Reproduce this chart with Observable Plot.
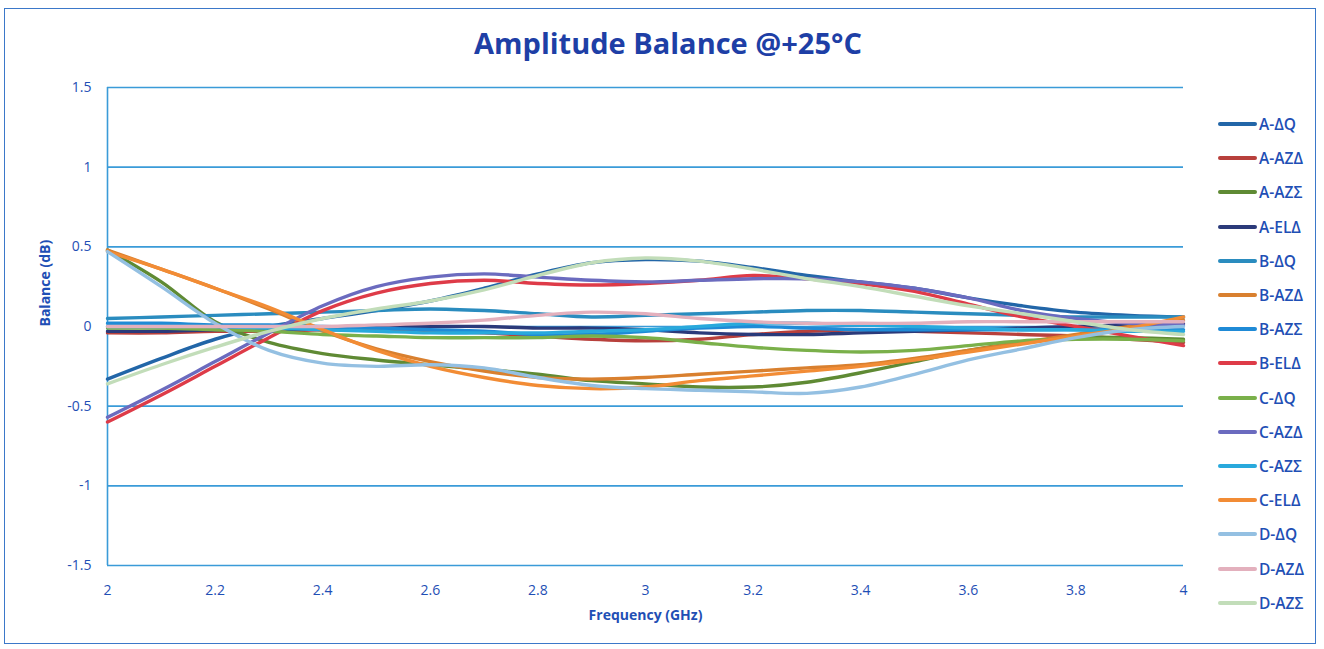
<!DOCTYPE html>
<html>
<head>
<meta charset="utf-8">
<script src="https://cdn.jsdelivr.net/npm/d3@7"></script>
<script src="https://cdn.jsdelivr.net/npm/@observablehq/plot@0.6"></script>
<style>
  html, body { margin: 0; padding: 0; background: #fff; }
  #wrap { position: relative; width: 1324px; height: 649px; overflow: hidden; background: #fff; font-family: "Open Sans", "Liberation Sans", sans-serif; }
  #frame { position: absolute; left: 4px; top: 8px; width: 1312px; height: 636px; border: 1.5px solid #3b78c9; box-sizing: border-box; pointer-events: none; }
  #title { position: absolute; left: 0; top: 23px; width: 1336px; text-align: center; font-size: 29px; font-weight: 700; color: #1e3fa6; letter-spacing: 0px; }
  #chart { position: absolute; left: 0; top: 70px; }
  #legend { position: absolute; left: 1218px; top: 114px; }
  .li { position: absolute; left: 0; height: 20px; display: flex; align-items: center; white-space: nowrap; }
  .sw { width: 39px; height: 4px; border-radius: 2px; margin-right: 2px; }
  .lt { font-size: 15.5px; font-weight: 600; color: #1f4fb5; }
</style>
</head>
<body>
<div id="wrap">
  <div id="frame"></div>
  <div id="title">Amplitude Balance @+25°C</div>
  <div id="chart"></div>
  <div id="legend"></div>
</div>
<script>
const freqs = [2.0,2.1,2.2,2.3,2.4,2.5,2.6,2.7,2.8,2.9,3.0,3.1,3.2,3.3,3.4,3.5,3.6,3.7,3.8,3.9,4.0];
const seriesNames = ["A-ΔQ","A-AZΔ","A-AZΣ","A-ELΔ","B-ΔQ","B-AZΔ","B-AZΣ","B-ELΔ","C-ΔQ","C-AZΔ","C-AZΣ","C-ELΔ","D-ΔQ","D-AZΔ","D-AZΣ"];
const seriesColors = ["#2266a8","#b8403c","#5f8a34","#2b3a7a","#2a8cbf","#d9802f","#1f8ad6","#de3b48","#7ab04a","#6b6bbf","#29a9dc","#f28c35","#94c0e2","#e3b0bd","#c2ddb9"];

const A_dQ   = [-0.33,-0.20,-0.08,0.00,0.05,0.10,0.16,0.24,0.33,0.40,0.42,0.41,0.37,0.32,0.28,0.24,0.18,0.13,0.09,0.07,0.06];
const A_AZd  = [-0.04,-0.04,-0.03,-0.03,-0.02,-0.02,-0.03,-0.04,-0.06,-0.08,-0.09,-0.08,-0.05,-0.03,-0.02,-0.03,-0.04,-0.05,-0.06,-0.08,-0.10];
const A_AZs  = [0.48,0.28,0.03,-0.10,-0.17,-0.21,-0.24,-0.27,-0.30,-0.34,-0.36,-0.38,-0.38,-0.35,-0.29,-0.22,-0.15,-0.10,-0.07,-0.07,-0.08];
const A_ELd  = [-0.03,-0.03,-0.02,-0.02,-0.01,0.00,0.00,0.00,-0.01,-0.01,-0.02,-0.04,-0.05,-0.05,-0.04,-0.03,-0.02,-0.01,0.00,0.01,0.02];
const B_dQ   = [0.05,0.06,0.07,0.08,0.09,0.10,0.11,0.10,0.08,0.06,0.07,0.08,0.09,0.10,0.10,0.09,0.08,0.07,0.06,0.06,0.06];
const B_AZd  = [0.48,0.36,0.24,0.11,-0.03,-0.14,-0.22,-0.28,-0.32,-0.33,-0.32,-0.30,-0.28,-0.26,-0.24,-0.20,-0.15,-0.10,-0.05,0.00,0.04];
const B_AZs  = [0.02,0.02,0.01,0.01,0.00,-0.01,-0.02,-0.03,-0.05,-0.05,-0.03,-0.01,0.00,-0.01,-0.02,-0.02,-0.02,-0.02,-0.02,-0.02,-0.02];
const B_ELd  = [-0.60,-0.43,-0.25,-0.07,0.10,0.21,0.27,0.29,0.27,0.26,0.27,0.29,0.32,0.30,0.27,0.22,0.14,0.06,0.00,-0.06,-0.12];
const C_dQ   = [-0.01,-0.01,-0.02,-0.03,-0.05,-0.06,-0.07,-0.07,-0.07,-0.06,-0.07,-0.10,-0.13,-0.15,-0.16,-0.15,-0.12,-0.09,-0.08,-0.08,-0.09];
const C_AZd  = [-0.57,-0.40,-0.22,-0.04,0.13,0.25,0.31,0.33,0.31,0.29,0.28,0.29,0.30,0.30,0.28,0.24,0.18,0.10,0.05,0.02,0.01];
const C_AZs  = [0.00,0.00,0.00,-0.01,-0.02,-0.03,-0.04,-0.04,-0.04,-0.03,-0.02,0.00,0.02,0.02,0.01,0.00,-0.01,-0.02,-0.02,-0.03,-0.03];
const C_ELd  = [0.47,0.36,0.24,0.12,-0.02,-0.15,-0.25,-0.32,-0.37,-0.39,-0.38,-0.34,-0.31,-0.28,-0.25,-0.21,-0.16,-0.11,-0.06,-0.01,0.06];
const D_dQ   = [0.47,0.25,0.02,-0.15,-0.23,-0.25,-0.24,-0.26,-0.32,-0.37,-0.39,-0.40,-0.41,-0.42,-0.38,-0.30,-0.21,-0.14,-0.07,-0.02,0.00];
const D_AZd  = [0.00,0.00,0.00,0.00,0.00,0.01,0.02,0.04,0.07,0.09,0.08,0.05,0.03,0.02,0.02,0.02,0.03,0.03,0.03,0.03,0.03];
const D_AZs  = [-0.36,-0.24,-0.13,-0.03,0.05,0.11,0.16,0.23,0.32,0.40,0.43,0.41,0.36,0.30,0.25,0.19,0.13,0.08,0.03,-0.02,-0.05];

const seriesValues = [A_dQ,A_AZd,A_AZs,A_ELd,B_dQ,B_AZd,B_AZs,B_ELd,C_dQ,C_AZd,C_AZs,C_ELd,D_dQ,D_AZd,D_AZs];
const xTicks = [2,2.2,2.4,2.6,2.8,3,3.2,3.4,3.6,3.8,4];
const yTicks = [-1.5,-1,-0.5,0,0.5,1,1.5];

const rows = [];
seriesNames.forEach((name, i) => {
  seriesValues[i].forEach((v, j) => rows.push({series: name, f: freqs[j], v}));
});

const tickColor = "#1f4fb5";
const gridColor = "#3a9bd8";

const chart = Plot.plot({
  width: 1324,
  height: 579,
  marginLeft: 107,
  marginRight: 141,
  marginTop: 17,
  marginBottom: 84,
  style: {fontFamily: "'Open Sans', sans-serif", fontSize: "14px", color: tickColor, background: "transparent"},
  x: {domain: [2, 4], ticks: xTicks, tickFormat: d => String(d), label: null},
  y: {domain: [-1.5, 1.5], ticks: yTicks, tickFormat: d => String(d), label: null},
  color: {domain: seriesNames, range: seriesColors},
  marks: [
    Plot.ruleY(yTicks, {stroke: gridColor, strokeWidth: 1.6}),
    Plot.ruleX([2], {stroke: gridColor, strokeWidth: 1.6}),
    Plot.axisX({ticks: xTicks, tickSize: 0, tickPadding: 20, tickFormat: d => String(d), fill: tickColor, fontSize: 14, label: null}),
    Plot.axisY({ticks: yTicks, tickSize: 0, tickPadding: 16, tickFormat: d => String(d), fill: tickColor, fontSize: 14, label: null}),
    Plot.line(rows, {x: "f", y: "v", z: "series", stroke: "series", strokeWidth: 3.4, curve: "catmull-rom"}),
    Plot.text(["Frequency (GHz)"], {frameAnchor: "bottom", dy: 54, fill: tickColor, fontWeight: "bold", fontSize: 14}),
    Plot.text(["Balance (dB)"], {frameAnchor: "left", dx: -62, rotate: -90, fill: tickColor, fontWeight: "bold", fontSize: 14})
  ]
});
document.getElementById("chart").appendChild(chart);

const leg = document.getElementById("legend");
seriesNames.forEach((name, i) => {
  const d = document.createElement("div");
  d.className = "li";
  d.style.top = (i * 34.2) + "px";
  d.innerHTML = `<div class="sw" style="background:${seriesColors[i]}"></div><span class="lt">${name}</span>`;
  leg.appendChild(d);
});
</script>
</body>
</html>
